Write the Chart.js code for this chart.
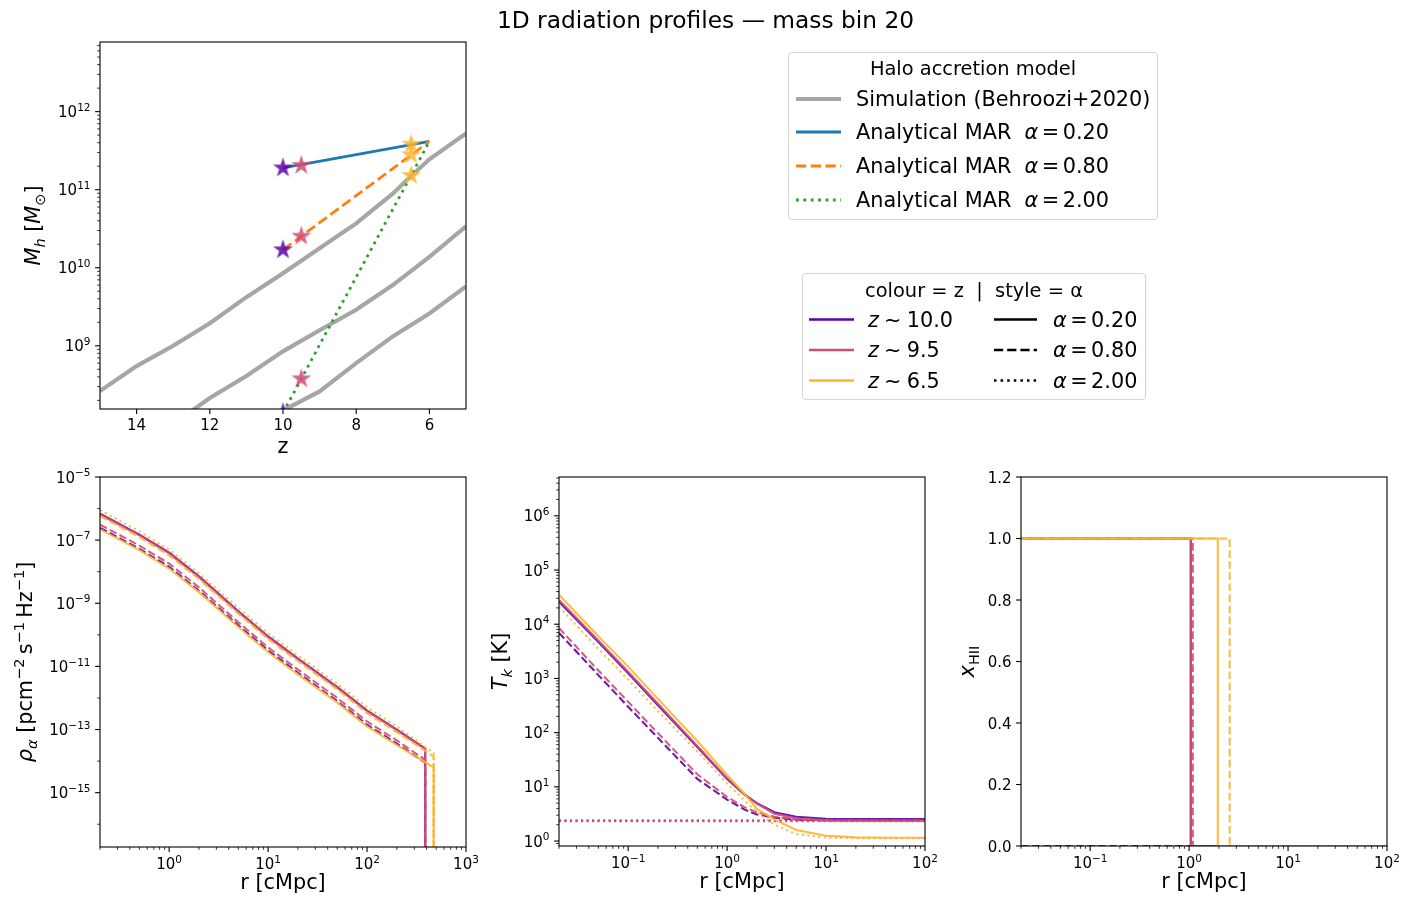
<!DOCTYPE html>
<html>
<head>
<meta charset="utf-8">
<title>1D radiation profiles — mass bin 20</title>
<script src="https://cdn.jsdelivr.net/npm/chart.js@4.4.1/dist/chart.umd.min.js"></script>
<style>
  html, body { margin: 0; background: #fff; }
  #fig { position: relative; width: 1411px; height: 911px; overflow: hidden; font-family: 'DejaVu Sans', sans-serif; color: #000; }
  #fig canvas { position: absolute; left: 0; top: 0; }
  #title { position: absolute; left: 0; top: 0; width: 1411px; line-height: 40px; text-align: center; font-size: 23.3px; }
  .legend { position: absolute; border: 1px solid #d4d4d4; border-radius: 4px; background: rgba(255,255,255,0.8); box-sizing: border-box; }
  .legend .ttl { position: absolute; left: 0; right: 0; text-align: center; font-size: 19.4px; line-height: 1; transform: translateY(-50%); white-space: pre; }
  .legend .item { position: absolute; font-size: 20.8px; line-height: 1; transform: translateY(-50%); white-space: pre; }
  .legend svg { position: absolute; left: 0; top: 0; overflow: visible; }
</style>
</head>
<body>
<div id="fig">
  <canvas id="cMh" width="1411" height="911"></canvas>
  <canvas id="cRho" width="1411" height="911"></canvas>
  <canvas id="cTk" width="1411" height="911"></canvas>
  <canvas id="cX" width="1411" height="911"></canvas>
  <div id="title">1D radiation profiles — mass bin 20</div>

  <div class="legend" style="left:788px;top:52px;width:370px;height:168px;">
    <svg width="370" height="168">
      <line x1="7" x2="52" y1="46" y2="46" stroke="#a6a6a6" stroke-width="4.2"/>
      <line x1="7" x2="52" y1="79" y2="79" stroke="#1f77b4" stroke-width="2.78"/>
      <line x1="7" x2="52" y1="113" y2="113" stroke="#ff7f0e" stroke-width="2.78" stroke-dasharray="10.3 4.45"/>
      <line x1="7" x2="52" y1="147" y2="147" stroke="#2ca02c" stroke-width="2.78" stroke-dasharray="2.78 4.6"/>
    </svg>
    <div class="ttl" style="top:16px;">Halo accretion model</div>
    <div class="item" style="left:67px;top:46px;">Simulation (Behroozi+2020)</div>
    <div class="item" style="left:67px;top:79px;">Analytical MAR  <i>α</i>&#8198;=&#8198;0.20</div>
    <div class="item" style="left:67px;top:113px;">Analytical MAR  <i>α</i>&#8198;=&#8198;0.80</div>
    <div class="item" style="left:67px;top:147px;">Analytical MAR  <i>α</i>&#8198;=&#8198;2.00</div>
  </div>

  <div class="legend" style="left:802px;top:273px;width:344px;height:127px;">
    <svg width="344" height="127">
      <line x1="6" x2="51" y1="45.5" y2="45.5" stroke="#5c01a6" stroke-width="2.5"/>
      <line x1="6" x2="51" y1="76" y2="76" stroke="#cf4c74" stroke-width="2.5"/>
      <line x1="6" x2="51" y1="106.5" y2="106.5" stroke="#fdb42f" stroke-width="2.5"/>
      <line x1="191" x2="234" y1="45.5" y2="45.5" stroke="#000" stroke-width="2.5"/>
      <line x1="191" x2="234" y1="76" y2="76" stroke="#000" stroke-width="2.5" stroke-dasharray="9.2 4"/>
      <line x1="191" x2="234" y1="106.5" y2="106.5" stroke="#000" stroke-width="2.5" stroke-dasharray="2.5 4.1"/>
    </svg>
    <div class="ttl" style="top:17px;">colour = z  |  style = α</div>
    <div class="item" style="left:65px;top:45.5px;"><i>z</i>&#8197;∼&#8197;10.0</div>
    <div class="item" style="left:65px;top:76px;"><i>z</i>&#8197;∼&#8197;9.5</div>
    <div class="item" style="left:65px;top:106.5px;"><i>z</i>&#8197;∼&#8197;6.5</div>
    <div class="item" style="left:250px;top:45.5px;"><i>α</i>&#8198;=&#8198;0.20</div>
    <div class="item" style="left:250px;top:76px;"><i>α</i>&#8198;=&#8198;0.80</div>
    <div class="item" style="left:250px;top:106.5px;"><i>α</i>&#8198;=&#8198;2.00</div>
  </div>
</div>

<script>
// ---- halo mass growth (top left) ----
const simZ1 = [15, 14, 13, 12, 11, 10, 9, 8, 7, 6.5, 6, 5];
const simM1 = [2.63e8, 5.5e8, 1.0e9, 1.95e9, 4.2e9, 8.5e9, 1.78e10, 3.7e10, 8.9e10, 1.5e11, 2.45e11, 5.25e11];
const simZ2 = [13, 12, 11, 10, 9, 8, 7, 6, 5];
const simM2 = [1.0e8, 2.14e8, 4.1e8, 8.5e8, 1.58e9, 2.9e9, 6.0e9, 1.38e10, 3.4e10];
const simZ3 = [10.5, 10, 9, 8, 7, 6, 5];
const simM3 = [8.9e7, 1.48e8, 2.6e8, 6.0e8, 1.32e9, 2.6e9, 5.75e9];

const marZ = [10, 6];
const marA02 = [1.9e11, 4.15e11];
const marA08 = [1.7e10, 4.15e11];
const marA20 = [1.39e8, 4.15e11];

// stars: one list per redshift, masses for alpha = 0.2, 0.8, 2.0
const starZ = [10, 9.5, 6.5];
const starZ10 = [1.9e11, 1.7e10, 1.39e8];
const starZ95 = [2.05e11, 2.54e10, 3.78e8];
const starZ65 = [3.83e11, 2.8e11, 1.52e11];

// ---- rho_alpha (bottom left) ----
const rhoR = [0.2, 0.5, 1, 2, 5, 10, 20, 50, 100, 200, 387, 387];
const rhoRy = [0.2, 0.5, 1, 2, 5, 10, 20, 50, 100, 200, 471, 471];
const rhoPurpleA02 = [6.9e-7, 1.5e-7, 4.0e-8, 7.1e-9, 5.6e-10, 8.9e-11, 1.78e-11, 2.2e-12, 4.0e-13, 1.0e-13, 2.5e-14, 1e-30];
const rhoPurpleA08 = [2.45e-7, 5.3e-8, 1.42e-8, 2.5e-9, 2.0e-10, 3.2e-11, 6.3e-12, 7.9e-13, 1.42e-13, 3.6e-14, 8.9e-15, 1e-30];
const rhoPinkA02 = [6.5e-7, 1.42e-7, 3.8e-8, 6.7e-9, 5.3e-10, 8.4e-11, 1.68e-11, 2.1e-12, 3.8e-13, 9.5e-14, 2.4e-14, 1e-30];
const rhoPinkA08 = [3.1e-7, 6.7e-8, 1.8e-8, 3.2e-9, 2.5e-10, 4.0e-11, 7.9e-12, 1.0e-12, 1.8e-13, 4.5e-14, 1.1e-14, 1e-30];
const rhoYellowA02 = [2.2e-7, 4.8e-8, 1.26e-8, 2.25e-9, 1.78e-10, 2.8e-11, 5.6e-12, 7.1e-13, 1.26e-13, 3.2e-14, 6.3e-15, 1e-30];
const rhoYellowA08 = [5.75e-7, 1.25e-7, 3.3e-8, 5.9e-9, 4.7e-10, 7.4e-11, 1.48e-11, 1.86e-12, 3.3e-13, 8.3e-14, 1.4e-14, 1e-30];
const rhoYellowA20 = [8.9e-7, 1.9e-7, 5.0e-8, 8.9e-9, 7.1e-10, 1.12e-10, 2.2e-11, 2.8e-12, 5.0e-13, 1.26e-13, 1.8e-14, 1e-30];

// ---- T_k (bottom middle) ----
const tkR = [0.02, 0.05, 0.1, 0.2, 0.5, 1, 1.5, 2, 3, 5, 10, 20, 50, 100];
const tkPurpleA02 = [26000, 4700, 1250, 320, 54, 14, 7.2, 5.0, 3.4, 2.8, 2.58, 2.54, 2.54, 2.54];
const tkPurpleA08 = [6900, 1150, 300, 80, 14, 5.8, 3.8, 3.1, 2.7, 2.45, 2.4, 2.4, 2.4, 2.4];
const tkPinkA02 = [28000, 5000, 1330, 340, 57, 14.5, 7.3, 4.9, 3.2, 2.6, 2.42, 2.4, 2.4, 2.4];
const tkPinkA08 = [8500, 1400, 370, 98, 17, 6.5, 4.2, 3.4, 2.8, 2.5, 2.4, 2.38, 2.38, 2.38];
const tkYellowA02 = [35000, 6000, 1650, 420, 70, 16.5, 7.4, 3.9, 2.5, 1.6, 1.25, 1.17, 1.15, 1.15];
const tkYellowA20 = [21000, 3500, 950, 250, 45, 11.5, 5.6, 3.4, 2.0, 1.35, 1.16, 1.13, 1.13, 1.13];
const tkFlatR = [0.02, 100];
const tkPurpleA20 = [2.4, 2.4];
const tkPinkA20 = [2.33, 2.33];

// ---- x_HII (bottom right) ----
const xPurpleA02R = [0.02, 1.04, 1.04, 100];
const xPinkA02R = [0.02, 1.04, 1.04, 100];
const xPinkA08R = [0.02, 1.09, 1.09, 100];
const xYellowA02R = [0.02, 1.95, 1.95, 100];
const xYellowA08R = [0.02, 2.57, 2.57, 100];
const xStep = [1, 1, 0, 0];
const xFlatR = [0.02, 100];
const xZero = [0, 0];

// ---- tick positions ----
const zTicks = [14, 12, 10, 8, 6];
const mhTickExp = [9, 10, 11, 12];
const rhoXTickExp = [0, 1, 2, 3];
const rhoYTickExp = [-5, -7, -9, -11, -13, -15];
const rhoYMinorExp = [-6, -8, -10, -12, -14, -16];
const rTickExp = [-1, 0, 1, 2];
const tkYTickExp = [0, 1, 2, 3, 4, 5, 6];
const xhiiTicks = [0, 0.2, 0.4, 0.6, 0.8, 1.0, 1.2];

const PURPLE = 'rgba(92,1,166,0.9)';
const PINK = 'rgba(207,76,116,0.9)';
const YELLOW = 'rgba(253,180,47,0.9)';
const TICK_PX = 15;
const LABEL_PX = 20.8;

// ---------- helpers ----------
function pts(xs, ys) {
    return xs.map((x, i) => ({ x: x, y: ys[i] }));
}

function dashFor(style, w) {
    if (style === 'dashed') return [3.7 * w, 1.6 * w];
    if (style === 'dotted') return [w, 1.65 * w];
    return [];
}

function line(xs, ys, color, style, w) {
    return {
        data: pts(xs, ys),
        borderColor: color,
        borderWidth: w,
        borderDash: dashFor(style, w),
        borderCapStyle: 'butt',
        pointRadius: 0,
        fill: false,
        tension: 0
    };
}

function starImage(color) {
    const R = 10.5, r = R * 0.382;
    const c = document.createElement('canvas');
    c.width = c.height = Math.ceil(2 * R + 2);
    const g = c.getContext('2d');
    g.translate(c.width / 2, c.height / 2);
    g.beginPath();
    for (let k = 0; k < 10; k++) {
        const rad = k % 2 ? r : R;
        const a = -Math.PI / 2 + k * Math.PI / 5;
        g.lineTo(rad * Math.cos(a), rad * Math.sin(a));
    }
    g.closePath();
    g.fillStyle = color;
    g.fill();
    return c;
}

function stars(z, masses, color) {
    return {
        data: masses.map(m => ({ x: z, y: m })),
        showLine: false,
        pointStyle: starImage(color),
        pointRadius: 10
    };
}

function setFont(ctx, size, italic) {
    ctx.font = (italic ? 'italic ' : '') + size + 'px "DejaVu Sans"';
}

// parts: [text, flags]; flags i = italic, b = subscript, p = superscript
function richWidth(ctx, parts, size) {
    let w = 0;
    parts.forEach(([t, f = '']) => {
        setFont(ctx, /[bp]/.test(f) ? size * 0.7 : size, f.includes('i'));
        w += ctx.measureText(t).width;
    });
    return w;
}

function richDraw(ctx, parts, x, y, size, align) {
    const w = richWidth(ctx, parts, size);
    let cx = align === 'center' ? x - w / 2 : align === 'right' ? x - w : x;
    ctx.textAlign = 'left';
    ctx.textBaseline = 'alphabetic';
    parts.forEach(([t, f = '']) => {
        const sub = f.includes('b'), sup = f.includes('p');
        setFont(ctx, sub || sup ? size * 0.7 : size, f.includes('i'));
        const dy = sub ? size * 0.22 : sup ? -size * 0.42 : 0;
        ctx.fillText(t, cx, y + dy);
        cx += ctx.measureText(t).width;
    });
}

function powTicks(exps) {
    return exps.map(e => ({ v: Math.pow(10, e), parts: [['10'], [(e < 0 ? '\u2212' + (-e) : String(e)), 'p']] }));
}

function minorLog(scale) {
    const out = [];
    for (let k = Math.floor(Math.log10(scale.min)); k <= Math.ceil(Math.log10(scale.max)); k++) {
        for (let m = 2; m <= 9; m++) {
            const v = m * Math.pow(10, k);
            if (v >= scale.min && v <= scale.max) out.push(v);
        }
    }
    return out;
}

// axis decoration per canvas
const AXES = {
    cMh: {
        xTicks: zTicks.map(v => ({ v: v, parts: [[String(v)]] })),
        yTicks: powTicks(mhTickExp),
        xMinor: null, yMinor: 'log',
        xLabelDy: 21, xTitle: [['z']], xTitleDy: 44,
        yTitle: [['M', 'i'], ['h', 'ib'], [' ['], ['M', 'i'], ['\u2299', 'b'], [']']], yTitleX: 33
    },
    cRho: {
        xTicks: powTicks(rhoXTickExp),
        yTicks: powTicks(rhoYTickExp),
        xMinor: 'log', yMinor: rhoYMinorExp.map(e => Math.pow(10, e)),
        xLabelDy: 22, xTitle: [['r [cMpc]']], xTitleDy: 42,
        yTitle: [['\u03c1', 'i'], ['\u03b1', 'ib'], [' [pcm'], ['\u22122', 'p'], ['\u2009s'], ['\u22121', 'p'], ['\u2009Hz'], ['\u22121', 'p'], [']']], yTitleX: 25
    },
    cTk: {
        xTicks: powTicks(rTickExp),
        yTicks: powTicks(tkYTickExp),
        xMinor: 'log', yMinor: 'log',
        xLabelDy: 22, xTitle: [['r [cMpc]']], xTitleDy: 42,
        yTitle: [['T', 'i'], ['k', 'ib'], [' [K]']], yTitleX: 500
    },
    cX: {
        xTicks: powTicks(rTickExp),
        yTicks: xhiiTicks.map(v => ({ v: v, parts: [[v.toFixed(1)]] })),
        xMinor: 'log', yMinor: null,
        xLabelDy: 22, xTitle: [['r [cMpc]']], xTitleDy: 42,
        yTitle: [['x', 'i'], ['HII', 'b']], yTitleX: 967
    }
};

function seg(ctx, x1, y1, x2, y2) {
    ctx.beginPath();
    ctx.moveTo(x1, y1);
    ctx.lineTo(x2, y2);
    ctx.stroke();
}

Chart.register({
    id: 'mplAxes',
    afterDatasetsDraw(chart) {
        const s = AXES[chart.canvas.id];
        if (!s) return;
        const ctx = chart.ctx, a = chart.chartArea;
        const xs = chart.scales.x, ys = chart.scales.y;
        ctx.save();
        ctx.strokeStyle = '#000';
        ctx.fillStyle = '#000';

        // minor ticks
        ctx.lineWidth = 0.8;
        const xm = s.xMinor === 'log' ? minorLog(xs) : (s.xMinor || []);
        xm.forEach(v => { const p = xs.getPixelForValue(v); seg(ctx, p, a.bottom, p, a.bottom + 2.8); });
        const ym = s.yMinor === 'log' ? minorLog(ys) : (s.yMinor || []);
        ym.forEach(v => {
            if (v < ys.min || v > ys.max) return;
            const p = ys.getPixelForValue(v);
            seg(ctx, a.left - 2.8, p, a.left, p);
        });

        // major ticks and labels
        ctx.lineWidth = 1.1;
        s.xTicks.forEach(t => {
            const p = xs.getPixelForValue(t.v);
            seg(ctx, p, a.bottom, p, a.bottom + 4.9);
            richDraw(ctx, t.parts, p, a.bottom + s.xLabelDy, TICK_PX, 'center');
        });
        s.yTicks.forEach(t => {
            const p = ys.getPixelForValue(t.v);
            seg(ctx, a.left - 4.9, p, a.left, p);
            richDraw(ctx, t.parts, a.left - 9.5, p + 5.5, TICK_PX, 'right');
        });

        // frame
        ctx.lineWidth = 1.1;
        ctx.strokeRect(a.left, a.top, a.right - a.left, a.bottom - a.top);

        // axis titles
        richDraw(ctx, s.xTitle, (a.left + a.right) / 2, a.bottom + s.xTitleDy, LABEL_PX, 'center');
        ctx.translate(s.yTitleX, (a.top + a.bottom) / 2);
        ctx.rotate(-Math.PI / 2);
        richDraw(ctx, s.yTitle, 0, LABEL_PX * 0.36, LABEL_PX, 'center');
        ctx.restore();
    }
});

function makeChart(id, area, xScale, yScale, datasets) {
    // later datasets are drawn on top, as in matplotlib
    return new Chart(document.getElementById(id), {
        type: 'line',
        data: { datasets: datasets.slice().reverse() },
        options: {
            responsive: false,
            animation: false,
            devicePixelRatio: 1,
            events: [],
            layout: { padding: { left: area[0], top: area[1], right: 1411 - area[2], bottom: 911 - area[3] } },
            plugins: { legend: { display: false }, tooltip: { enabled: false } },
            scales: {
                x: Object.assign({ display: false }, xScale),
                y: Object.assign({ display: false }, yScale)
            }
        }
    });
}

// top left: halo mass accretion histories
const GREY = '#a6a6a6';
makeChart('cMh', [100, 42, 466, 409],
    { type: 'linear', min: 5, max: 15, reverse: true },
    { type: 'logarithmic', min: 1.55e8, max: 7.8e12 },
    [
        line(simZ1, simM1, GREY, 'solid', 4.2),
        line(simZ2, simM2, GREY, 'solid', 4.2),
        line(simZ3, simM3, GREY, 'solid', 4.2),
        line(marZ, marA02, '#1f77b4', 'solid', 2.78),
        line(marZ, marA08, '#ff7f0e', 'dashed', 2.78),
        line(marZ, marA20, '#2ca02c', 'dotted', 2.78),
        stars(starZ[0], starZ10, 'rgba(92,1,166,0.85)'),
        stars(starZ[1], starZ95, 'rgba(207,76,116,0.85)'),
        stars(starZ[2], starZ65, 'rgba(253,180,47,0.85)')
    ]);

// bottom left: Lyman-alpha coupling
const PW = 2.08;
makeChart('cRho', [100, 477, 466, 847],
    { type: 'logarithmic', min: 0.2, max: 1000 },
    { type: 'logarithmic', min: 1.9e-17, max: 1e-5 },
    [
        line(rhoR, rhoPurpleA02, PURPLE, 'solid', PW),
        line(rhoR, rhoPurpleA08, PURPLE, 'dashed', PW),
        line(rhoR, rhoPinkA02, PINK, 'solid', PW),
        line(rhoR, rhoPinkA08, PINK, 'dashed', PW),
        line(rhoRy, rhoYellowA02, YELLOW, 'solid', PW),
        line(rhoRy, rhoYellowA08, YELLOW, 'dashed', PW),
        line(rhoRy, rhoYellowA20, YELLOW, 'dotted', PW)
    ]);

// bottom middle: kinetic temperature
makeChart('cTk', [559, 477, 925, 846],
    { type: 'logarithmic', min: 0.02, max: 100 },
    { type: 'logarithmic', min: 0.81, max: 5.2e6 },
    [
        line(tkR, tkPurpleA02, PURPLE, 'solid', PW),
        line(tkR, tkPurpleA08, PURPLE, 'dashed', PW),
        line(tkFlatR, tkPurpleA20, PURPLE, 'dotted', PW),
        line(tkR, tkPinkA02, PINK, 'solid', PW),
        line(tkR, tkPinkA08, PINK, 'dashed', PW),
        line(tkFlatR, tkPinkA20, PINK, 'dotted', PW),
        line(tkR, tkYellowA02, YELLOW, 'solid', PW),
        line(tkR, tkYellowA20, YELLOW, 'dotted', PW)
    ]);

// bottom right: ionised fraction
makeChart('cX', [1021, 477, 1387, 846],
    { type: 'logarithmic', min: 0.02, max: 100 },
    { type: 'linear', min: 0, max: 1.2 },
    [
        line(xPurpleA02R, xStep, PURPLE, 'solid', PW),
        line(xFlatR, xZero, PURPLE, 'dashed', PW),
        line(xFlatR, xZero, PURPLE, 'dotted', PW),
        line(xPinkA02R, xStep, PINK, 'solid', PW),
        line(xPinkA08R, xStep, PINK, 'dashed', PW),
        line(xFlatR, xZero, PINK, 'dotted', PW),
        line(xYellowA02R, xStep, YELLOW, 'solid', PW),
        line(xYellowA08R, xStep, YELLOW, 'dashed', PW)
    ]);
</script>
</body>
</html>
